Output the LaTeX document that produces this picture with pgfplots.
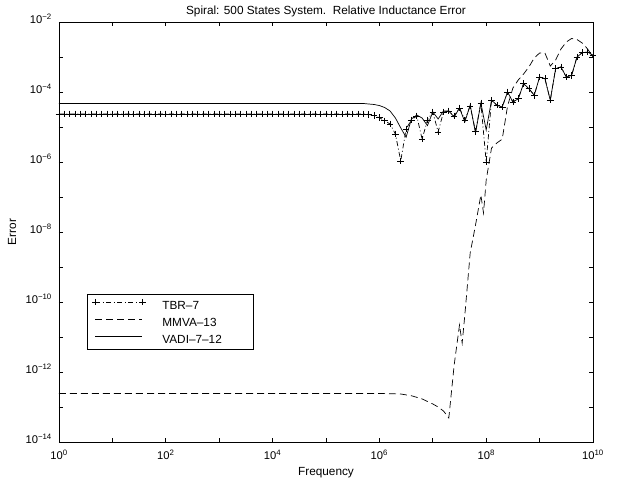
\documentclass[border=0pt]{standalone}
\usepackage{fontspec}
\setmainfont{Liberation Sans}
\usepackage{pgfplots}
\usepackage{pgfplotstable}
\pgfplotsset{compat=1.18}

\pgfplotstableread{
x y
1e0 2.35e-5
1.2589e0 2.35e-5
1.5849e0 2.35e-5
1.9953e0 2.35e-5
2.5119e0 2.35e-5
3.1623e0 2.35e-5
3.9811e0 2.35e-5
5.0119e0 2.35e-5
6.3096e0 2.35e-5
7.9433e0 2.35e-5
1e1 2.35e-5
1.2589e1 2.35e-5
1.5849e1 2.35e-5
1.9953e1 2.35e-5
2.5119e1 2.35e-5
3.1623e1 2.35e-5
3.9811e1 2.35e-5
5.0119e1 2.35e-5
6.3096e1 2.35e-5
7.9433e1 2.35e-5
1e2 2.35e-5
1.2589e2 2.35e-5
1.5849e2 2.35e-5
1.9953e2 2.35e-5
2.5119e2 2.35e-5
3.1623e2 2.35e-5
3.9811e2 2.35e-5
5.0119e2 2.35e-5
6.3096e2 2.35e-5
7.9433e2 2.35e-5
1e3 2.35e-5
1.2589e3 2.35e-5
1.5849e3 2.35e-5
1.9953e3 2.35e-5
2.5119e3 2.35e-5
3.1623e3 2.35e-5
3.9811e3 2.35e-5
5.0119e3 2.35e-5
6.3096e3 2.35e-5
7.9433e3 2.35e-5
1e4 2.35e-5
1.2589e4 2.35e-5
1.5849e4 2.35e-5
1.9953e4 2.35e-5
2.5119e4 2.35e-5
3.1623e4 2.35e-5
3.9811e4 2.35e-5
5.0119e4 2.35e-5
6.3096e4 2.35e-5
7.9433e4 2.35e-5
1e5 2.35e-5
1.2589e5 2.35e-5
1.5849e5 2.35e-5
1.9953e5 2.35e-5
2.5119e5 2.35e-5
3.1623e5 2.35e-5
3.9811e5 2.35e-5
5.0119e5 2.35e-5
6.3096e5 2.3e-5
7.9433e5 2.1e-5
1e6 1.85e-5
1.2589e6 1.5e-5
1.5849e6 1.22e-5
1.9953e6 6.3e-6
2.5119e6 1.07e-6
3.1623e6 8.8e-6
3.9811e6 1.6e-5
5.0119e6 2.06e-5
6.3096e6 4.5e-6
7.9433e6 1.58e-5
1e7 2.68e-5
1.2589e7 7.2e-6
1.5849e7 2.68e-5
1.9953e7 2.86e-5
2.5119e7 2.06e-5
3.1623e7 3.5e-5
3.9811e7 1.58e-5
5.0119e7 4.0e-5
6.3096e7 7.5e-6
7.9433e7 4.85e-5
1e8 1.0e-6
1.2589e8 5.85e-5
1.5849e8 4.2e-5
1.9953e8 3.73e-5
2.5119e8 1.0e-4
3.1623e8 5.2e-5
3.9811e8 6.4e-5
5.0119e8 1.73e-4
6.3096e8 1.24e-4
7.9433e8 8.1e-5
1e9 2.68e-4
1.2589e9 2.4e-4
1.5849e9 5.85e-5
1.9953e9 4.64e-4
2.5119e9 5.2e-4
3.1623e9 2.68e-4
3.9811e9 3.0e-4
5.0119e9 1.0e-3
6.3096e9 1.33e-3
7.9433e9 1.39e-3
1e10 1.12e-3
}\tbr

\pgfplotstableread{
x y
1e0 2.43e-13
1e6 2.43e-13
1.5849e6 2.4e-13
2.5119e6 2.35e-13
3.9811e6 2.1e-13
6.3096e6 1.7e-13
1e7 1.22e-13
1.2589e7 1.0e-13
1.5849e7 7.7e-14
1.9953e7 4.85e-14
2.5119e7 1.58e-12
3.1623e7 2.2e-11
3.5481e7 6.7e-12
3.9811e7 4.25e-11
5.0119e7 2.5e-9
6.3096e7 1.58e-8
7.9433e7 1.14e-7
8.9125e7 3.5e-8
1e8 3.06e-7
1.2589e8 2.5e-6
1.5849e8 3.5e-6
1.9953e8 4.5e-6
2.5119e8 3.98e-5
3.1623e8 1.3e-4
3.9811e8 2.2e-4
5.0119e8 3.27e-4
6.3096e8 5.2e-4
7.9433e8 9.4e-4
1e9 1.3e-3
1.2589e9 1.3e-3
1.5849e9 5.5e-4
1.9953e9 8.2e-4
2.5119e9 1.69e-3
3.1623e9 2.68e-3
3.9811e9 3.38e-3
5.0119e9 3.16e-3
6.3096e9 2.5e-3
7.9433e9 1.69e-3
1e10 1.0e-3
}\mmva

\pgfplotstableread{
x y
1e0 4.7e-5
5.0119e5 4.7e-5
6.3096e5 4.54e-5
7.9433e5 4.4e-5
1e6 4.1e-5
1.2589e6 3.6e-5
1.5849e6 2.86e-5
1.9953e6 1.81e-5
2.5119e6 9.4e-6
3.1623e6 5.1e-6
3.9811e6 1.7e-5
5.0119e6 2.2e-5
6.3096e6 1.8e-5
7.9433e6 1.1e-5
1e7 2.68e-5
1.2589e7 1.7e-5
1.5849e7 2.86e-5
1.9953e7 2.86e-5
2.5119e7 1.93e-5
3.1623e7 3.5e-5
3.9811e7 1.39e-5
5.0119e7 4.25e-5
6.3096e7 6.7e-6
7.9433e7 4.85e-5
1e8 8.2e-6
1.2589e8 5.85e-5
1.5849e8 4.2e-5
1.9953e8 3.73e-5
2.5119e8 1.0e-4
3.1623e8 5.2e-5
3.9811e8 6.4e-5
5.0119e8 1.73e-4
6.3096e8 1.24e-4
7.9433e8 8.1e-5
1e9 2.68e-4
1.2589e9 2.4e-4
1.5849e9 5.85e-5
1.9953e9 4.64e-4
2.5119e9 5.2e-4
3.1623e9 2.68e-4
3.9811e9 3.0e-4
5.0119e9 1.0e-3
6.3096e9 1.33e-3
7.9433e9 1.39e-3
1e10 1.12e-3
}\vadi

\begin{document}
\begin{tikzpicture}
\begin{axis}[
  scale only axis, width=534bp, height=420bp,
  xmode=log, ymode=log, log basis x=10, log basis y=10,
  xmin=1, xmax=1e10, ymin=1e-14, ymax=1e-2,
  axis line style={line width=0.9bp},
  tick style={line width=0.8bp, black},
  tick align=inside, tick pos=both,
  major tick length=4.5bp,
  xminorticks=false, yminorticks=false,
  xtick={1e0,1e1,1e2,1e3,1e4,1e5,1e6,1e7,1e8,1e9,1e10},
  xticklabels={10\textsuperscript{0},,10\textsuperscript{2},,10\textsuperscript{4},,10\textsuperscript{6},,10\textsuperscript{8},,10\textsuperscript{10}},
  ytick={1e-14,1e-13,1e-12,1e-11,1e-10,1e-9,1e-8,1e-7,1e-6,1e-5,1e-4,1e-3,1e-2},
  yticklabels={10\textsuperscript{−14},,10\textsuperscript{−12},,10\textsuperscript{−10},,10\textsuperscript{−8},,10\textsuperscript{−6},,10\textsuperscript{−4},,10\textsuperscript{−2}},
  xticklabel style={anchor=base, inner sep=0pt, yshift=-17.5bp, font=\fontsize{11.2bp}{13bp}\selectfont},
  yticklabel style={anchor=base east, inner sep=0pt, xshift=-7bp, yshift=-1bp, font=\fontsize{11.2bp}{13bp}\selectfont},
  every axis title/.style={at={(0.5,1.0167)}, anchor=base, font=\fontsize{11.8bp}{14bp}\selectfont},
  every axis x label/.style={at={(0.5,-0.0786)}, anchor=base, font=\fontsize{11.8bp}{14bp}\selectfont},
  every axis y label/.style={at={(-0.088,0.5)}, rotate=90, anchor=center, font=\fontsize{11.8bp}{14bp}\selectfont},
  title={Spiral: 500 States System.\ \ Relative Inductance Error},
  xlabel={Frequency},
  ylabel={Error},
  clip=false,
  legend image code/.code={\draw[#1] plot coordinates {(0bp,3.5bp) (47bp,3.5bp)};},
  legend cell align=left,
  legend style={at={(0.0524,0.3524)}, anchor=north west, draw=black, line width=0.8bp, fill=white,
    inner xsep=4.7bp, inner ysep=4.5bp, row sep=6.5bp, column sep=16.7bp,
    font=\fontsize{11.8bp}{14bp}\selectfont, nodes={inner sep=0pt}},
]
\addplot[black, line width=0.7bp, dash pattern=on 5bp off 2.5bp on 1bp off 2.5bp, mark=+, mark size=3.3bp, mark options={solid}] table {\tbr};
\addlegendentry{\makebox[86bp][l]{\rule[-3bp]{0pt}{12bp}TBR–7}}
\addplot[black, line width=0.7bp, dash pattern=on 7bp off 4bp] table {\mmva};
\addlegendentry{\makebox[86bp][l]{\rule[-3bp]{0pt}{12bp}MMVA–13}}
\addplot[black, line width=0.7bp] table {\vadi};
\addlegendentry{\makebox[86bp][l]{\rule[-3bp]{0pt}{12bp}VADI–7–12}}
\coordinate (bl) at (rel axis cs:0,0);
\coordinate (tr) at (rel axis cs:1,1);
\end{axis}
\pgfresetboundingbox
\useasboundingbox ([xshift=-59bp,yshift=-40bp]bl) rectangle ([xshift=38bp,yshift=22bp]tr);
\end{tikzpicture}
\end{document}
